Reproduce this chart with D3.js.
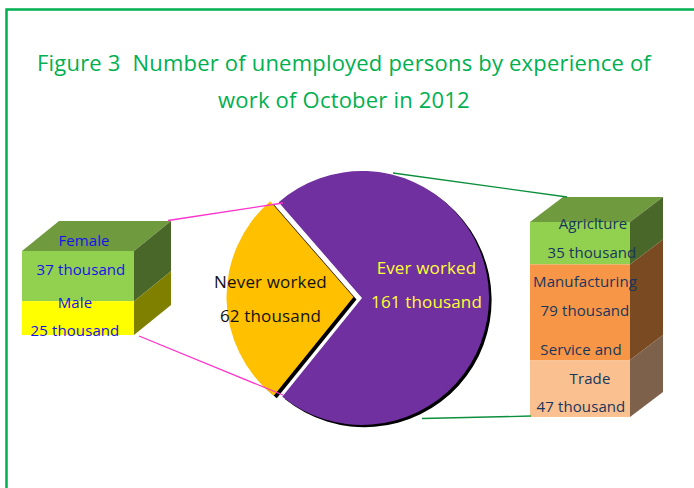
<!DOCTYPE html>
<html><head><meta charset="utf-8">
<script src="https://cdn.jsdelivr.net/npm/d3@7"></script>
<style>html,body{margin:0;padding:0;background:#fff;overflow:hidden}svg{display:block}text{font-family:"Open Sans",sans-serif;white-space:pre}</style>
</head><body><svg id="c" width="694" height="488"></svg>
<script>
const titleLines = ["Figure 3  Number of unemployed persons by experience of", "work of October in 2012"];
const pieNames = ["Ever worked", "Never worked"];
const pieValues = [161, 62];
const neverNames = ["Female", "Male"];
const neverValues = [37, 25];
const everNames = ["Agriclture", "Manufacturing", "Service and|Trade"];
const everValues = [35, 79, 47];
const thousand = " thousand";

const svg = d3.select("#c");
svg.append("path").attr("d","M6.5,490V9.5H694").attr("fill","none").attr("stroke","#00b050").attr("stroke-width",2.5);

svg.selectAll("text.title").data(titleLines).join("text").attr("class","title")
  .attr("x",344).attr("y",(d,i)=>71+i*37).attr("text-anchor","middle")
  .attr("font-size",22).attr("font-weight",500).attr("letter-spacing",0.2).attr("fill","#00b050").text(d=>d);

// Pie
const deg = Math.PI/180;
const pie = d3.pie().sort(null).startAngle(-41*deg).endAngle(319*deg)(pieValues);
const arc = d3.arc().innerRadius(0);
const pieColors = ["#7030a0","#ffc000"];
const centers = [[362,298],[353.5,297]];
const radii = [127,127];
const shadows = [[2.6,2.2],[3,2.5]];
const g = svg.append("g");
pie.forEach((p,i)=>{
  const d = arc.outerRadius(radii[i])(p);
  g.append("path").attr("d",d).attr("fill","#000")
    .attr("transform",`translate(${centers[i][0]+shadows[i][0]},${centers[i][1]+shadows[i][1]})`);
  g.append("path").attr("d",d).attr("fill",pieColors[i])
    .attr("transform",`translate(${centers[i][0]},${centers[i][1]})`);
});

// Blocks
function block(names, values, x0, x1, yTop, yBottom, colors, textColor, labelX, labelYs, size){
  const depth = [x0 < 300 ? 37 : 33, x0 < 300 ? -30 : -25];
  const total = d3.sum(values);
  const y = d3.scaleLinear().domain([0,total]).range([yTop,yBottom]);
  let acc = 0;
  const G = svg.append("g");
  G.append("path").attr("d",`M${x0},${yTop}L${x0+depth[0]},${yTop+depth[1]}H${x1+depth[0]}L${x1},${yTop}Z`).attr("fill",colors.top);
  values.forEach((v,i)=>{
    const a=y(acc), b=y(acc+v); acc+=v;
    G.append("rect").attr("x",x0).attr("y",a).attr("width",x1-x0).attr("height",b-a).attr("fill",colors.front[i]);
    G.append("path").attr("d",`M${x1},${a}L${x1+depth[0]},${a+depth[1]}V${b+depth[1]}L${x1},${b}Z`).attr("fill",colors.side[i]);
  });
  let k=0;
  names.forEach((n,i)=>{
    const lines = n.split("|").concat([values[i]+thousand]);
    lines.forEach(t=>{
      G.append("text").attr("x",labelX[k]).attr("y",labelYs[k]).attr("text-anchor","middle")
        .attr("font-size",size).attr("letter-spacing",0.1).attr("fill",textColor).text(t);
      k++;
    });
  });
}
block(neverNames,neverValues,22,134,251,335,
  {top:"#6f9a3e",front:["#92d050","#ffff00"],side:["#4a672a","#808000"]},
  "#1414e6",[84,81,75,75],[246,275,308,336],15);
block(everNames,everValues,530,630,222,417,
  {top:"#6f9a3e",front:["#92d050","#f79646","#fac090"],side:["#4a672a","#7a4a23","#7d614b"]},
  "#17365d",[593,592,585,585,581,590,581],[229,258,287,316,355,384,412],15);

// Connectors
const conn = (a,b,c)=>svg.append("line").attr("x1",a[0]).attr("y1",a[1]).attr("x2",b[0]).attr("y2",b[1]).attr("stroke",c).attr("stroke-width",1.3);
conn([168,220.5],[283,203],"#ff33cc");
conn([139,336],[283,395],"#ff33cc");
conn([393,173],[567,197],"#0b8f3c");
conn([422,418.5],[531,416],"#0b8f3c");

// Pie labels
const pieText = [
  {x:426.5,ys:[274,308],c:"#ffff33",s:17},
  {x:270.5,ys:[288,322],c:"#111",s:17}
];
pie.forEach((p,i)=>{
  [pieNames[i], pieValues[i]+thousand].forEach((t,j)=>{
    svg.append("text").attr("x",pieText[i].x).attr("y",pieText[i].ys[j]).attr("text-anchor","middle")
      .attr("font-size",pieText[i].s).attr("letter-spacing",0.15).attr("fill",pieText[i].c).text(t);
  });
});
</script></body></html>
